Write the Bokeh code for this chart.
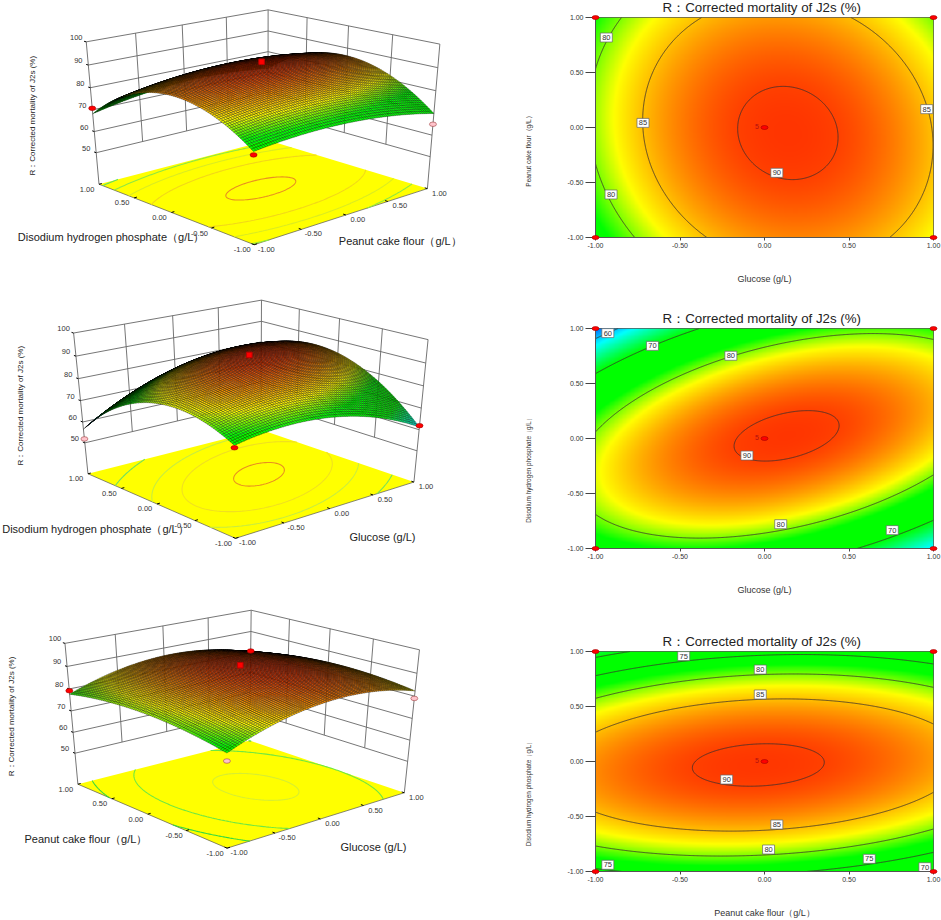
import numpy as np
from contourpy import contour_generator
from bokeh.plotting import figure
from bokeh.layouts import row, column
from bokeh.models import Range1d, FixedTicker, NumeralTickFormatter
from bokeh.core.properties import value
from bokeh.embed import file_html
from bokeh.resources import INLINE

# ---- values, rows top to bottom, columns left to right
AXIS_LEVELS = [-1.0, -0.5, 0.0, 0.5, 1.0]
ROW_LEVELS = [1.0, 0.5, 0.0, -0.5, -1.0]
glucose_peanut = [
    [77.63, 83.99, 86.47, 85.08, 79.80],
    [80.11, 86.72, 89.46, 88.31, 83.29],
    [80.67, 87.54, 90.53, 89.64, 84.86],
    [79.33, 86.45, 89.69, 89.05, 84.53],
    [76.10, 83.47, 86.96, 86.57, 82.30],
]
glucose_phosphate = [
    [56.57, 67.96, 75.33, 78.69, 78.04],
    [72.27, 81.46, 86.62, 87.77, 84.90],
    [80.61, 87.58, 90.53, 89.46, 84.39],
    [81.57, 86.33, 87.06, 83.78, 76.49],
    [75.15, 77.70, 76.22, 70.73, 61.23],
]
peanut_phosphate = [
    [68.18, 72.06, 73.91, 73.85, 71.74],
    [81.48, 84.81, 86.16, 85.59, 83.04],
    [86.92, 89.71, 90.56, 89.48, 86.50],
    [84.52, 86.76, 87.10, 85.52, 82.10],
    [74.27, 75.95, 75.80, 73.72, 69.85],
]

TITLE = "R：Corrected  mortality of J2s (%)"
ZLABEL = "R：Corrected mortality of J2s (%)"
GLUCOSE = "Glucose (g/L)"
PEANUT = "Peanut cake flour（g/L）"
PHOSPHATE = "Disodium hydrogen phosphate（g/L）"
TICKS = [-1.0, -0.5, 0.0, 0.5, 1.0]
Z_TICKS = [50, 60, 70, 80, 90, 100]
Z_FLOOR = 34.7

COLOR_STOPS = [55, 62, 70, 77.5, 82.5, 86, 90, 92]
COLOR_R = [0, 0, 0, 0, 255, 255, 255, 255]
COLOR_G = [60, 255, 255, 255, 255, 165, 65, 30]
COLOR_B = [255, 255, 0, 0, 0, 0, 0, 0]

FONT = value("Liberation Sans")


def colour(z):
    z = np.asarray(z, dtype=float)
    return (np.interp(z, COLOR_STOPS, COLOR_R),
            np.interp(z, COLOR_STOPS, COLOR_G),
            np.interp(z, COLOR_STOPS, COLOR_B))


def hexes(z):
    r, g, b = colour(z)
    return ["#%02x%02x%02x" % (int(a), int(c), int(d)) for a, c, d in zip(r.ravel(), g.ravel(), b.ravel())]


def dense(grid, xs, ys):
    """Display resampling: a smooth surface through the values read on the 5x5 grid."""
    gx, gy = np.meshgrid(AXIS_LEVELS, ROW_LEVELS)
    basis = lambda a, b: np.stack([a**i * b**j for i in range(3) for j in range(3)], axis=-1)
    coef = np.linalg.lstsq(basis(gx.ravel(), gy.ravel()), np.asarray(grid).ravel(), rcond=None)[0]
    mx, my = np.meshgrid(xs, ys)
    return basis(mx, my) @ coef


def contour_panel(grid, xlabel, ylabel, ylabel_y, ylabel_size, levels, labels, top, bottom, height):
    p = figure(width=441, height=height, output_backend="svg", toolbar_location=None,
               x_range=Range1d(-1, 1), y_range=Range1d(-1, 1),
               min_border_left=95, min_border_right=8, min_border_top=top, min_border_bottom=bottom,
               tools="")
    p.grid.visible = False
    p.outline_line_color = "#555555"
    p.background_fill_color = "white"
    xs = np.linspace(-1, 1, 420)
    ys = np.linspace(-1, 1, 270)
    z = dense(grid, xs, ys)
    r, g, b = colour(z)
    img = (255 << 24) | (b.astype(np.uint32) << 16) | (g.astype(np.uint32) << 8) | r.astype(np.uint32)
    p.image_rgba(image=[img.astype(np.uint32)], x=-1, y=-1, dw=2, dh=2)
    gen = contour_generator(x=xs, y=ys, z=z)
    lx, ly = [], []
    for level in levels:
        for seg in gen.lines(level):
            lx.append(seg[:, 0].tolist())
            ly.append(seg[:, 1].tolist())
    p.multi_line(lx, ly, line_color="#3a3030", line_width=0.8)
    lab_x, lab_y, lab_t = labels
    p.rect(lab_x, lab_y, width=12, height=9, width_units="screen", height_units="screen",
           fill_color="white", line_color="#666666", line_width=0.7)
    p.text(lab_x, lab_y, text=lab_t, text_font=FONT, text_font_size="7.5px", text_align="center",
           text_baseline="middle", text_color="#333333")
    p.ellipse([-1, -1, 1, 1, 0], [-1, 1, -1, 1, 0], width=7, height=4, width_units="screen", height_units="screen",
              fill_color="#ff0000", line_color="#a00000", line_width=0.6, level="overlay")
    p.text([-0.045], [0.01], text=["5"], text_font=FONT, text_font_size="7px", text_align="center",
           text_baseline="middle", text_color="#b01010")
    p.text([-0.005], [1.0], text=[TITLE], y_offset=-10, text_font=FONT, text_font_size="13.3px", text_align="center",
           text_baseline="middle", text_color="#222222", level="overlay")
    p.text([-1.396], [ylabel_y], text=[ylabel], angle=np.pi / 2, text_font=FONT, text_font_size=ylabel_size,
           text_align="center", text_baseline="middle", text_color="#333333", level="overlay")
    for ax in (p.xaxis[0], p.yaxis[0]):
        ax.ticker = FixedTicker(ticks=TICKS)
        ax.formatter = NumeralTickFormatter(format="0.00")
        ax.minor_tick_line_color = None
        ax.major_tick_in = 0
        ax.major_label_text_font = "Liberation Sans"
        ax.major_label_text_font_size = "7px"
        ax.major_label_text_color = "#333333"
        ax.major_label_standoff = 2
        ax.axis_line_color = "#555555"
        ax.major_tick_line_color = "#444444"
    x_axis = p.xaxis[0]
    x_axis.axis_label = xlabel
    x_axis.axis_label_text_font = "Liberation Sans"
    x_axis.axis_label_text_font_style = "normal"
    x_axis.axis_label_text_color = "#333333"
    x_axis.major_tick_out = 3
    x_axis.axis_label_text_font_size = "9px"
    x_axis.axis_label_standoff = 23
    p.yaxis[0].major_tick_out = 10
    return p


def solve_camera(anchors):
    a, b = [], []
    for (u, v, w), (px, py) in anchors:
        w = w / 50.0
        a.append([u, v, w, 1, 0, 0, 0, 0, -px * u, -px * v, -px * w]); b.append(px)
        a.append([0, 0, 0, 0, u, v, w, 1, -py * u, -py * v, -py * w]); b.append(py)
    s = np.linalg.lstsq(np.array(a, float), np.array(b, float), rcond=None)[0]
    return np.append(s, 1.0).reshape(3, 4)


def surface_panel(spec):
    y0, y1 = spec["span"]
    p = figure(width=500, height=y1 - y0, output_backend="svg", toolbar_location=None,
               x_range=Range1d(0, 500), y_range=Range1d(y1, y0), min_border=0, tools="")
    p.axis.visible = False
    p.grid.visible = False
    p.outline_line_color = None
    F, L, R, B, LT, RT, BT = spec["anchors"]
    cam = solve_camera([((-1, -1, Z_FLOOR), F), ((-1, 1, Z_FLOOR), L), ((1, -1, Z_FLOOR), R), ((1, 1, Z_FLOOR), B),
                        ((-1, 1, 100), LT), ((1, -1, 100), RT), ((1, 1, 100), BT)])

    def proj(u, v, z):
        u, v, z = np.broadcast_arrays(np.asarray(u, float), np.asarray(v, float), np.asarray(z, float))
        h = cam @ np.stack([u.ravel(), v.ravel(), z.ravel() / 50.0, np.ones(u.size)])
        return (h[0] / h[2]).reshape(u.shape), (h[1] / h[2]).reshape(u.shape)

    # walls
    wx, wy = [], []
    def seg(u, v, z):
        x, y = proj(u, v, z)
        wx.append(x.tolist()); wy.append(y.tolist())
    for z in Z_TICKS:
        seg([-1, 1], [1, 1], [z, z])
        seg([1, 1], [1, -1], [z, z])
    for t in TICKS[1:-1]:
        seg([t, t], [1, 1], [50, 100])
        seg([1, 1], [t, t], [50, 100])
    seg([-1, -1], [1, 1], [Z_FLOOR, 100])
    seg([1, 1], [-1, -1], [Z_FLOOR, 100])
    seg([1, 1], [1, 1], [50, 100])
    p.multi_line(wx, wy, line_color="#666666", line_width=0.9)

    # floor
    fx, fy = proj([-1, -1, 1, 1], [-1, 1, 1, -1], [Z_FLOOR] * 4)
    p.patch(fx.tolist(), fy.tolist(), fill_color="#ffff00", line_color=None)
    ex, ey = proj([-1, -1, 1], [1, -1, -1], [Z_FLOOR] * 3)
    p.line(ex.tolist(), ey.tolist(), line_color="#555555", line_width=0.7)

    us = np.linspace(-1, 1, 120)
    vs = np.linspace(-1, 1, 120)
    zfine = dense(spec["grid"], us, vs)
    gen = contour_generator(x=us, y=vs, z=zfine)
    for level, col in spec["floor_lines"]:
        cx, cy = [], []
        for s in gen.lines(level):
            a, b = proj(s[:, 0], s[:, 1], np.full(len(s), Z_FLOOR))
            cx.append(a.tolist()); cy.append(b.tolist())
        if cx:
            p.multi_line(cx, cy, line_color=col, line_width=1.1)

    # surface, far to near
    n = 84
    gu = np.linspace(-1, 1, n + 1)
    gv = np.linspace(-1, 1, n + 1)
    zz = dense(spec["grid"], gu, gv)
    mu, mv = np.meshgrid(gu, gv)
    px, py = proj(mu, mv, zz)
    quads = []
    for i in range(n):
        for j in range(n):
            quads.append((-(gu[j] + gv[i]), i, j))
    quads.sort()
    qx, qy, qz = [], [], []
    for _, i, j in quads:
        qx.append([px[i, j], px[i, j + 1], px[i + 1, j + 1], px[i + 1, j]])
        qy.append([py[i, j], py[i, j + 1], py[i + 1, j + 1], py[i + 1, j]])
        qz.append(zz[i:i + 2, j:j + 2].mean())
    p.patches(qx, qy, fill_color=hexes(qz), line_color="black", line_width=0.3)

    # tick marks and tick labels
    tx, ty = [], []
    for t in TICKS:
        a, b = proj([t, t], [-1, -0.97], [Z_FLOOR, Z_FLOOR]); tx.append(a.tolist()); ty.append(b.tolist())
        a, b = proj([-1, -0.97], [t, t], [Z_FLOOR, Z_FLOOR]); tx.append(a.tolist()); ty.append(b.tolist())
    for z in Z_TICKS:
        a, b = proj([-1, -1], [1, 1.03], [z, z]); tx.append(a.tolist()); ty.append(b.tolist())
    p.multi_line(tx, ty, line_color="black", line_width=1.0)

    lbl = ["%.2f" % t for t in TICKS]
    a, b = proj(TICKS, [-1] * 5, [Z_FLOOR] * 5)
    p.text((a + 12).tolist(), (b + 4.5).tolist(), text=lbl, text_font=FONT, text_font_size="7.5px",
           text_align="center", text_baseline="middle", text_color="#333333")
    a, b = proj([-1] * 5, TICKS, [Z_FLOOR] * 5)
    p.text((a - 12).tolist(), (b + 5).tolist(), text=lbl, text_font=FONT, text_font_size="7.5px",
           text_align="center", text_baseline="middle", text_color="#333333")
    a, b = proj([-1] * 6, [1] * 6, Z_TICKS)
    p.text((a - 10).tolist(), (b - 4.5).tolist(), text=[str(z) for z in Z_TICKS], text_font=FONT,
           text_font_size="7.5px", text_align="center", text_baseline="middle", text_color="#333333")

    # axis titles
    (lt, lx_, ly_), (rt, rx_, ry_) = spec["titles"]
    p.text([lx_, rx_], [ly_, ry_], text=[lt, rt], text_font=FONT, text_font_size="11px", text_align="left",
           text_baseline="middle", text_color="#222222")
    zx, zy = spec["zlabel"]
    p.text([zx], [zy], text=[ZLABEL], angle=np.pi / 2, text_font=FONT, text_font_size="8px", text_align="left",
           text_baseline="middle", text_color="#222222")

    # design points
    mu_, mv_, mz_, mc_ = spec["points"]
    a, b = proj(mu_, mv_, mz_)
    line = ["#a04040" if c != "#ff0000" else "#a00000" for c in mc_]
    p.ellipse(a.tolist(), b.tolist(), width=7, height=4.5, width_units="screen", height_units="screen",
              fill_color=mc_, line_color=line, line_width=0.6)
    cx_, cy_ = proj([0], [0], [spec["center"]])
    p.scatter(cx_.tolist(), cy_.tolist(), marker="square", size=5.5, fill_color="#ff0000", line_color="#c00000")
    return p


RED, PINK = "#ff0000", "#ffc4cc"
panel_one = dict(
    span=(0, 295), grid=peanut_phosphate,
    anchors=[(254, 244.3), (98.3, 183.3), (426.7, 188.3), (267.7, 140), (85.7, 41.7), (439.3, 43.3), (267.7, 9.3)],
    floor_lines=[(90, "#e89020"), (85, "#f2d818"), (80, "#dcec20"), (75, "#90e840"), (70, "#60e060")],
    titles=(("Disodium hydrogen phosphate（g/L）", 17.3, 236.7), ("Peanut cake flour（g/L）", 338.3, 240.7)),
    zlabel=(32, 175),
    points=([-1, -1, 1], [1, -1, -1], [70.7, 72.9, 65.0], [RED, RED, PINK]), center=92.0,
)
panel_two = dict(
    span=(295, 605), grid=glucose_phosphate,
    anchors=[(235, 538.3), (87.3, 472.7), (413.3, 481), (260.7, 430), (73.3, 332.7), (427.7, 339.3), (260.7, 299.3)],
    floor_lines=[(90, "#e89020"), (85, "#f0e020"), (80, "#c8ec40"), (70, "#70e060")],
    titles=(("Disodium hydrogen phosphate（g/L）", 1.7, 528.3), ("Glucose (g/L)", 349, 536)),
    zlabel=(20, 465),
    points=([-1, -1, 1], [1, -1, -1], [51.9, 74.2, 61.9], [PINK, RED, RED]), center=92.0,
)
panel_three = dict(
    span=(605, 920), grid=glucose_peanut,
    anchors=[(226.7, 848.3), (77.7, 782.7), (404.3, 791.7), (248.3, 741), (64, 643.3), (418.3, 649.3), (251.7, 609.3)],
    floor_lines=[(90, "#d8ee30"), (85, "#70e840"), (80, "#30d840")],
    titles=(("Peanut cake flour（g/L）", 24, 838.3), ("Glucose (g/L)", 340, 846)),
    zlabel=(10.7, 775.7),
    points=([-1, 1, -1, 1], [1, -1, -1, 1], [79.2, 79.0, 72.8, 80.6], [RED, PINK, PINK, RED]), center=92.0,
)

labels_a = ([-0.936, -0.908, -0.719, 0.96, 0.073], [0.818, -0.609, 0.042, 0.167, -0.412], ["80", "80", "85", "85", "90"])
labels_b = ([-0.927, -0.663, -0.199, -0.104, 0.096, 0.756], [0.958, 0.842, 0.752, -0.155, -0.779, -0.833],
            ["60", "70", "80", "90", "80", "70"])
labels_c = ([-0.478, -0.025, -0.025, -0.224, 0.073, 0.024, 0.62, 0.949, -0.927],
            [0.958, 0.836, 0.609, -0.164, -0.573, -0.8, -0.885, -0.961, -0.939],
            ["75", "80", "85", "90", "85", "80", "75", "70", "75"])

left = column(surface_panel(panel_one), surface_panel(panel_two), surface_panel(panel_three), spacing=0)
right = column(
    contour_panel(glucose_peanut, GLUCOSE, PEANUT, -0.2, "6.6px", [80, 85, 90], labels_a, 17, 63, 300),
    contour_panel(glucose_phosphate, GLUCOSE, PHOSPHATE, -0.277, "6.4px", [60, 70, 80, 90], labels_b, 28, 74, 322),
    contour_panel(peanut_phosphate, PEANUT, PHOSPHATE, -0.282, "6.4px", [70, 75, 80, 85, 90], labels_c, 29, 49, 298),
    spacing=0,
)
page = row(left, right, spacing=0)
open("out.html", "w").write(file_html(page, INLINE))
